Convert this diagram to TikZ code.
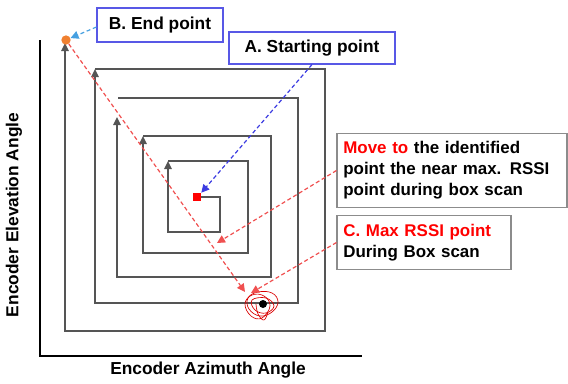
\documentclass[tikz,border=0pt]{standalone}
\usepackage{fontspec}
\setmainfont{Liberation Sans}
\usetikzlibrary{arrows.meta, positioning, calc}
\definecolor{boxblue}{RGB}{88, 88, 230}
\definecolor{boxgray}{RGB}{140, 140, 140}
\definecolor{scangray}{RGB}{85, 85, 85}
\definecolor{dashred}{RGB}{240, 80, 80}
\definecolor{dashblue}{RGB}{60, 60, 225}
\definecolor{dashsky}{RGB}{70, 160, 225}
\definecolor{endorange}{RGB}{240, 128, 48}

\begin{document}
\begin{tikzpicture}[x=0.75pt, y=-0.75pt,
  scanline/.style={draw=scangray, line width=1.3pt, -{Triangle[length=6pt, width=5.5pt]}},
  bluebox/.style={draw=boxblue, line width=0.8pt, fill=white, inner sep=0pt, font=\fontsize{13}{15}\selectfont\bfseries},
  notebox/.style={draw=boxgray, line width=0.8pt, fill=white, inner sep=0pt, align=left, font=\fontsize{12.7}{15.7}\selectfont\bfseries},
  reddash/.style={draw=dashred, line width=0.9pt, dash pattern=on 3pt off 2pt, -{Triangle[length=6pt, width=6pt]}},
  labeltext/.style={font=\fontsize{13}{15}\selectfont\bfseries}]
  \useasboundingbox (0,0) rectangle (568,383);

  % axes
  \draw[line width=1.2pt] (40,40) -- (40,356) -- (362,356);
  \node[labeltext] (azlabel) at (208,370) {Encoder Azimuth Angle};
  \node[labeltext, rotate=90] (ellabel) at (14,215) {Encoder Elevation Angle};

  % box scan spiral
  \draw[scanline] (197,197) -- (220,197) -- (220,232) -- (168,232) -- (168,161);
  \draw[scanline] (168,161) -- (248,161) -- (248,253) -- (143,253) -- (143,136);
  \draw[scanline] (143,136) -- (271,136) -- (271,277) -- (117,277) -- (117,117);
  \draw[scanline] (118,98) -- (298,98) -- (298,303) -- (95,303) -- (95,69);
  \draw[scanline] (95,69) -- (325,69) -- (325,331) -- (65,331) -- (65,43);

  % points
  \node[fill=red, minimum size=6pt, inner sep=0pt] (startpt) at (197,197) {};
  \node[circle, fill=endorange, minimum size=7pt, inner sep=0pt] (endpt) at (66,40) {};
  \draw[red!85!black, line width=0.5pt] plot[smooth cycle, tension=0.7] coordinates {(248,298) (258,292) (272,293) (278,302) (272,312) (260,316) (249,309)};
  \draw[red!85!black, line width=0.5pt] plot[smooth cycle, tension=0.7] coordinates {(245,304) (252,295) (264,296) (270,306) (262,318) (251,316)};
  \draw[red!85!black, line width=0.5pt] plot[smooth cycle, tension=0.7] coordinates {(252,300) (266,298) (274,306) (266,313) (255,310)};
  \draw[red!85!black, line width=0.5pt] plot[smooth, tension=0.7] coordinates {(256,304) (258,314) (264,320) (268,312)};
  \node[circle, fill=black, minimum size=6pt, inner sep=0pt] (maxpt) at (263,304) {};
  \coordinate (nearmax) at (217,243);
  \coordinate (maxarrow) at (245,292);
  \coordinate (maxarrowc) at (251,293);

  % labels
  \node[bluebox, minimum width=94.5pt, minimum height=25.5pt] (bbox) at (160,25) {B. End point};
  \node[bluebox, minimum width=124.5pt, minimum height=24pt] (abox) at (312,48) {A. Starting point};
  \node[notebox, minimum width=172.5pt, minimum height=56pt, text width=163pt] (movebox) at (452,170.5)
    {\textcolor{red}{Move to} the identified\\point the near max. RSSI\\point during box scan};
  \node[notebox, minimum width=130.5pt, minimum height=41pt, text width=121pt] (cbox) at (424,242.5)
    {\textcolor{red}{C. Max RSSI point}\\During Box scan};

  % connectors
  \draw[draw=dashsky, line width=0.9pt, dash pattern=on 3pt off 2pt, -{Triangle[length=6pt, width=6pt]}] (bbox.west |- 0,27) -- (endpt);
  \draw[draw=dashblue, line width=0.9pt, dash pattern=on 3pt off 2pt, -{Triangle[length=6pt, width=6pt]}] (abox.south) -- (startpt.north east);
  \draw[reddash] (endpt) -- (maxarrow);
  \draw[reddash] (movebox.west) -- (nearmax);
  \draw[reddash] (cbox.west) -- (maxarrowc);
\end{tikzpicture}
\end{document}
